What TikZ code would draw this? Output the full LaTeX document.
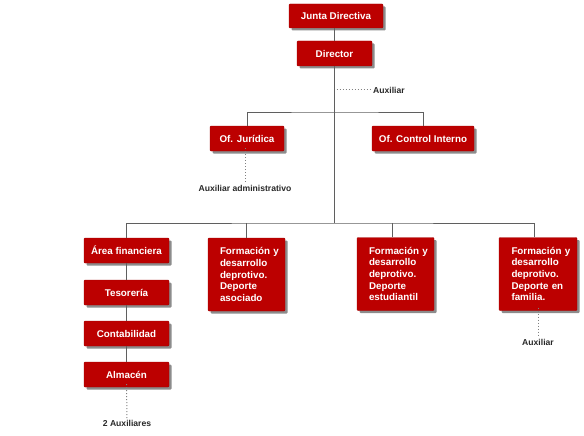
\documentclass[tikz,border=0pt]{standalone}
\usepackage{fontspec}
\setmainfont{Liberation Sans}
\usetikzlibrary{shadows}
\definecolor{boxred}{RGB}{188,0,0}
\definecolor{linegray}{RGB}{95,95,95}
\definecolor{labelgray}{RGB}{40,40,40}
\tikzset{
  unitbox/.style={rectangle, fill=boxred, draw=boxred!85!black, line width=0.4pt,
    rounded corners=1pt, text=white, font=\fontsize{9.8}{11.7}\selectfont\bfseries,
    inner sep=0pt, align=center,
    drop shadow={shadow xshift=2.5pt, shadow yshift=-2.5pt, opacity=0.45, fill=black}},
  tallbox/.style={unitbox, text width=53pt, align=left, minimum width=77pt, minimum height=73pt},
  conn/.style={draw=linegray, line width=1pt},
  dotconn/.style={draw=gray, line width=1pt, dotted},
  lbl/.style={text=labelgray, font=\fontsize{8.6}{10}\selectfont\bfseries, inner sep=1pt}
}
\begin{document}
\begin{tikzpicture}[x=1pt,y=-1pt]
\useasboundingbox (0,0) rectangle (584,436);
% nodes
\node[unitbox, minimum width=94pt, minimum height=24pt] (jd) at (336,16) {Junta Directiva};
\node[unitbox, minimum width=75pt, minimum height=25pt] (dir) at (334.5,53.5) {Director};
\node[unitbox, minimum width=74pt, minimum height=25pt] (ofj) at (247,138.5) {Of. Jurídica};
\node[unitbox, minimum width=102pt, minimum height=25pt] (ofci) at (423,138.5) {Of. Control Interno};
\node[unitbox, minimum width=85pt, minimum height=25pt] (af) at (126.5,250.5) {Área financiera};
\node[unitbox, minimum width=85pt, minimum height=25pt] (tes) at (126.5,292.5) {Tesorería};
\node[unitbox, minimum width=85pt, minimum height=25pt] (cont) at (126.5,333.5) {Contabilidad};
\node[unitbox, minimum width=85pt, minimum height=25pt] (alm) at (126.5,374.5) {Almacén};
\node[tallbox] (f1) at (246.5,274.5) {Formación~y\\desarrollo\\deprotivo.\\Deporte\\asociado};
\node[tallbox] (f2) at (395.5,274) {Formación~y\\desarrollo\\deprotivo.\\Deporte\\estudiantil};
\node[tallbox, minimum width=78pt] (f3) at (538,274) {Formación~y\\desarrollo\\deprotivo.\\Deporte~en\\familia.};
% labels
\node[lbl, anchor=west] (auxd) at (372,90) {Auxiliar};
\node[lbl] (auxj) at (245,188) {Auxiliar administrativo};
\node[lbl] (aux3) at (538,342) {Auxiliar};
\node[lbl] (aux2) at (127,423.5) {2 Auxiliares};
% coordinates
\coordinate (trunk1) at (334.5,112);
\coordinate (trunk2) at (334.5,223);
\coordinate (auxstart) at (336.5,90);
% connectors
\draw[conn] (jd.south -| dir.north) -- (dir.north);
\draw[conn] (dir.south) -- (trunk2);
\draw[conn] (ofj.north) |- (trunk1) -| (ofci.north);
\draw[conn] (af.north) |- (trunk2) -| ([xshift=-4pt]f3.north);
\draw[conn] ([xshift=-3.5pt]f2.north) -- ([xshift=-3.5pt]f2.north |- trunk2);
\draw[conn] (f1.north) -- (f1.north |- trunk2);
\draw[conn] (af.south) -- (tes.north);
\draw[conn] (tes.south) -- (cont.north);
\draw[conn] (cont.south) -- (alm.north);
\draw[dotconn] (auxstart) -- (auxd.west);
\draw[dotconn] ([yshift=3pt]ofj.south -| 245,0) -- (auxj.north);
\draw[dotconn] ([yshift=3pt]alm.south) -- (aux2.north);
\draw[dotconn] ([yshift=3pt]f3.south -| aux3.north) -- (aux3.north);
\end{tikzpicture}
\end{document}
